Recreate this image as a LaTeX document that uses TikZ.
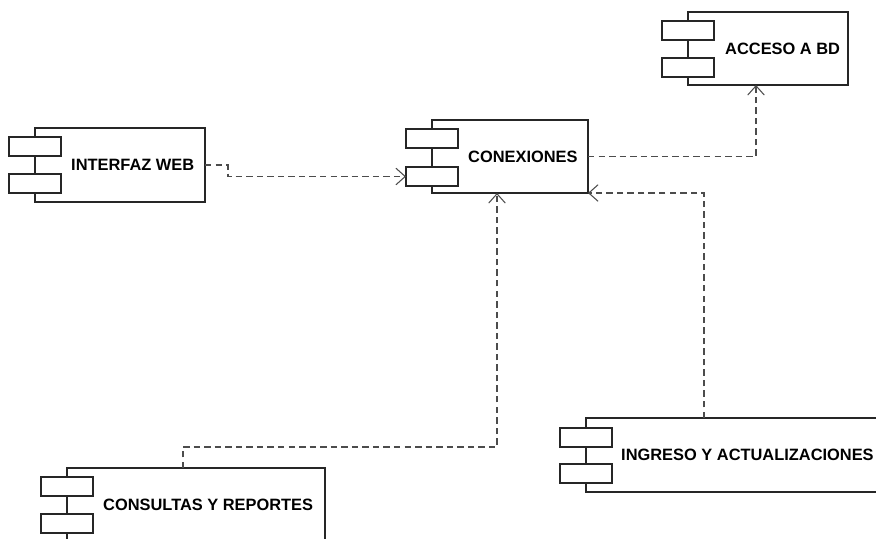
\documentclass[tikz,border=0pt]{standalone}
\usepackage{fontspec}
\setmainfont{Liberation Sans}
\usetikzlibrary{positioning,arrows.meta}

\tikzset{
  comp/.style={draw=black!85, line width=0.9pt, fill=white, rectangle, anchor=north west, inner sep=0pt, outer sep=0pt},
  port/.style={draw=black!85, line width=0.9pt, fill=white, rectangle, minimum width=1.56cm, minimum height=0.57cm, inner sep=0pt, outer sep=0pt},
  lbl/.style={font=\fontsize{14}{16}\selectfont\bfseries, inner sep=0pt},
  dep/.style={draw=black!70, line width=0.9pt, dash pattern=on 5.5pt off 3.5pt, -{Straight Barb[length=2.8mm,width=5mm,line width=0.9pt]}}
}

\begin{document}
\begin{tikzpicture}
% Set the page size (876 x 538 px)
\clip (0,0) rectangle (26.28,-16.14);

% Draw the components and their ports
\node[comp, minimum width=5.1cm, minimum height=2.22cm] (web) at (1.05,-3.84) {};
\node[port, below=0.27cm of web.north west] (web-p1) {};
\node[port, below=1.38cm of web.north west] (web-p2) {};
\node[lbl, right=1.08cm of web.west] (web-t) {INTERFAZ WEB};

\node[comp, minimum width=4.68cm, minimum height=2.19cm] (conx) at (12.96,-3.60) {};
\node[port, below=0.27cm of conx.north west] (conx-p1) {};
\node[port, below=1.41cm of conx.north west] (conx-p2) {};
\node[lbl, right=1.08cm of conx.west] (conx-t) {CONEXIONES};

\node[comp, minimum width=4.8cm, minimum height=2.19cm] (bd) at (20.64,-0.36) {};
\node[port, below=0.27cm of bd.north west] (bd-p1) {};
\node[port, below=1.38cm of bd.north west] (bd-p2) {};
\node[lbl, right=1.11cm of bd.west] (bd-t) {ACCESO A BD};

\node[comp, minimum width=7.74cm, minimum height=2.22cm] (cons) at (2.01,-14.04) {};
\node[port, below=0.27cm of cons.north west] (cons-p1) {};
\node[port, below=1.38cm of cons.north west] (cons-p2) {};
\node[lbl, right=1.08cm of cons.west] (cons-t) {CONSULTAS Y REPORTES};

\node[comp, minimum width=9cm, minimum height=2.22cm] (ingr) at (17.58,-12.54) {};
\node[port, below=0.30cm of ingr.north west] (ingr-p1) {};
\node[port, below=1.38cm of ingr.north west] (ingr-p2) {};
\node[lbl, right=1.05cm of ingr.west] (ingr-t) {INGRESO Y ACTUALIZACIONES};

% Dependencies
\coordinate (cons-up) at ([xshift=3.48cm]cons.north west);
\coordinate (ingr-up) at ([xshift=3.54cm]ingr.north west);
\draw[dep] (web.east) -- ++(0.69,0) |- (conx-p2.west);
\draw[dep] (conx.east) -| ([xshift=-0.36cm]bd.south);
\draw[dep] (cons-up) -- ++(0,0.63) -| ([xshift=-0.39cm]conx.south);
\draw[dep] (ingr-up) |- (conx.south east);
\end{tikzpicture}
\end{document}
